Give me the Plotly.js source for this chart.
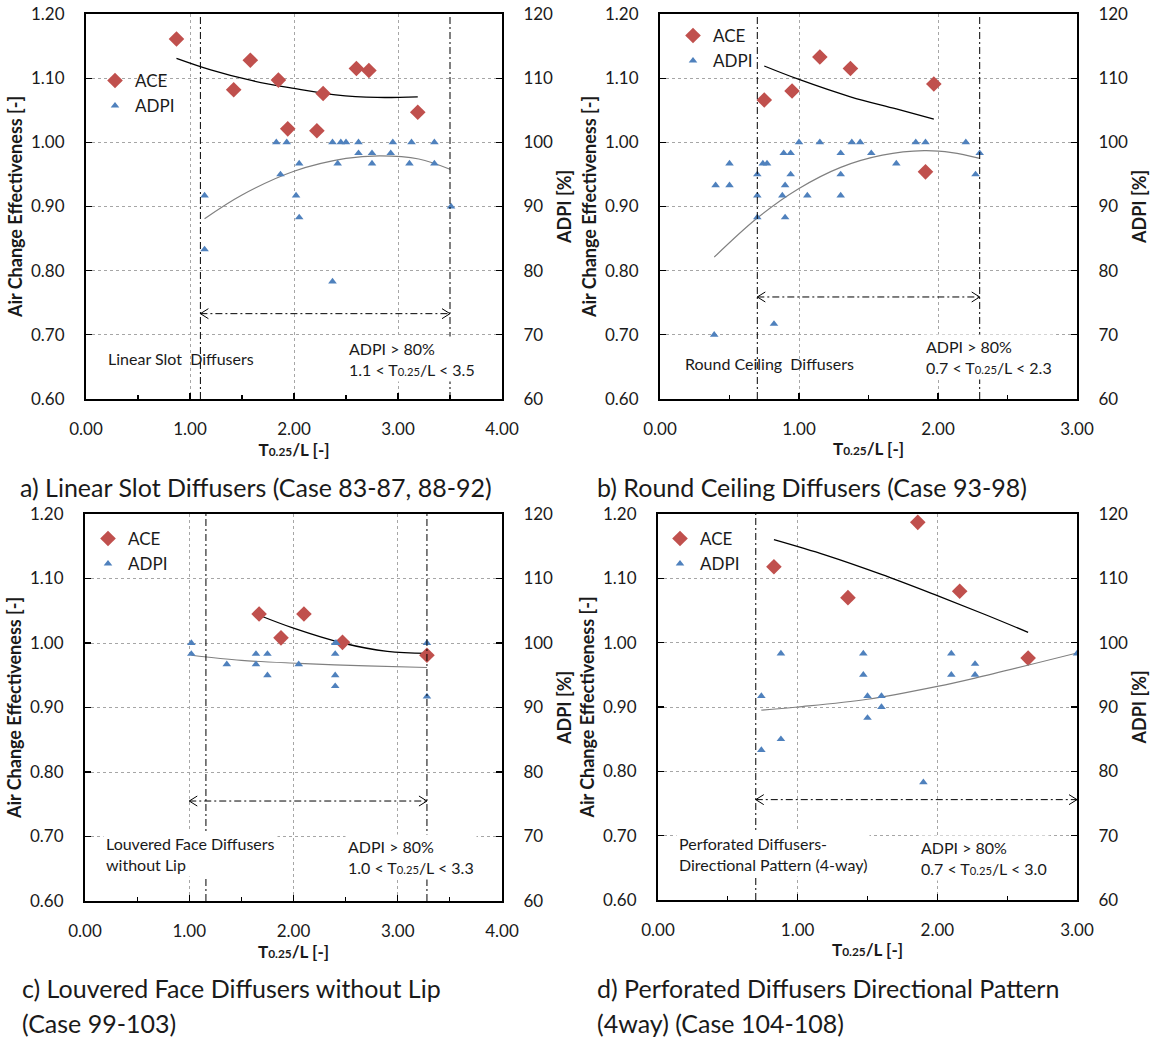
<!DOCTYPE html>
<html>
<head>
<meta charset="utf-8">
<script src="https://cdn.plot.ly/plotly-3.0.1.min.js"></script>
<style>html,body{margin:0;padding:0;background:#fff;}#chart{width:1159px;height:1042px;}</style>
</head>
<body>
<div id="chart"></div>
<script>
// ---------------- DATA ----------------
// Panel a) Linear Slot Diffusers
const aAceX  = [0.87, 1.42, 1.58, 1.85, 1.94, 2.22, 2.28, 2.60, 2.72, 3.19];
const aAceY  = [1.161, 1.082, 1.128, 1.097, 1.021, 1.018, 1.076, 1.115, 1.112, 1.047];
const aAdpiX = [1.14, 1.14, 1.83, 1.93, 1.87, 2.05, 2.02, 2.05, 2.37, 2.42, 2.45, 2.50, 2.62, 2.62, 2.75, 2.75, 2.93, 2.95, 3.11, 3.13, 3.35, 3.35, 3.51, 2.37];
const aAdpiY = [91.7, 83.3, 100, 100, 95, 96.7, 91.7, 88.3, 100, 96.7, 100, 100, 100, 98.3, 98.3, 96.7, 98.3, 100, 96.7, 100, 100, 96.7, 90, 78.3];
const aAceFitX  = [0.87, 1.2, 1.6, 2.0, 2.4, 2.8, 3.19];
const aAceFitY  = [1.131, 1.113, 1.096, 1.084, 1.074, 1.070, 1.071];
const aAdpiFitX = [1.14, 1.5, 2.0, 2.5, 2.83, 3.2, 3.5];
const aAdpiFitY = [88.1, 91.8, 95.5, 97.5, 97.9, 97.4, 95.8];
const aBounds = [1.1, 3.5];
const aArrow  = [1.1, 3.5];
const aArrowY = 0.733;

// Panel b) Round Ceiling Diffusers
const bAceX  = [0.75, 0.95, 1.15, 1.37, 1.97, 1.91];
const bAceY  = [1.066, 1.080, 1.133, 1.115, 1.091, 0.954];
const bAdpiX = [0.40, 0.50, 0.50, 0.70, 0.70, 0.70, 0.74, 0.77, 0.89, 0.94, 0.90, 0.94, 0.88, 0.90, 1.00, 1.06, 1.15, 1.30, 1.30, 1.30, 1.38, 1.44, 1.52, 1.70, 1.84, 1.91, 2.20, 2.30, 2.27, 0.39, 0.82];
const bAdpiY = [93.3, 96.7, 93.3, 95, 91.7, 88.3, 96.7, 96.7, 98.3, 98.3, 93.3, 95, 91.7, 88.3, 100, 91.7, 100, 98.3, 95, 91.7, 100, 100, 98.3, 96.7, 100, 100, 100, 98.3, 95, 70, 71.7];
const bAceFitX  = [0.75, 1.0, 1.37, 1.7, 1.97];
const bAceFitY  = [1.119, 1.098, 1.071, 1.052, 1.036];
const bAdpiFitX = [0.39, 0.7, 1.0, 1.3, 1.6, 1.9, 2.1, 2.3];
const bAdpiFitY = [82.1, 88.2, 92.8, 96.1, 98.0, 98.7, 98.4, 97.5];
const bBounds = [0.7, 2.3];
const bArrow  = [0.7, 2.3];
const bArrowY = 0.759;

// Panel c) Louvered Face Diffusers without Lip
const cAceX  = [1.67, 2.10, 1.88, 2.47, 3.28];
const cAceY  = [1.045, 1.045, 1.008, 1.001, 0.981];
const cAdpiX = [1.02, 1.02, 1.36, 1.64, 1.64, 1.75, 1.75, 2.05, 2.40, 2.40, 2.40, 2.40, 2.41, 3.28, 3.28];
const cAdpiY = [100, 98.3, 96.7, 98.3, 96.7, 98.3, 95, 96.7, 100, 98.3, 95, 93.3, 100, 100, 91.7];
const cAceFitX  = [1.67, 2.0, 2.47, 2.9, 3.28];
const cAceFitY  = [1.043, 1.023, 1.000, 0.987, 0.984];
const cAdpiFitX = [1.02, 1.5, 2.05, 2.7, 3.28];
const cAdpiFitY = [98.1, 97.3, 96.85, 96.45, 96.2];
const cBounds = [1.16, 3.28];
const cArrow  = [1.0, 3.28];
const cArrowY = 0.755;

// Panel d) Perforated Diffusers Directional Pattern (4-way)
const dAceX  = [0.83, 1.36, 1.86, 2.16, 2.65];
const dAceY  = [1.118, 1.070, 1.187, 1.080, 0.976];
const dAdpiX = [0.74, 0.74, 0.88, 0.88, 1.47, 1.47, 1.50, 1.50, 1.60, 1.60, 2.10, 2.10, 2.27, 2.27, 3.00, 1.90];
const dAdpiY = [91.7, 83.3, 98.3, 85, 98.3, 95, 91.7, 88.3, 91.7, 90, 98.3, 95, 96.7, 95, 98.3, 78.3];
const dAceFitX  = [0.83, 1.2, 1.6, 2.0, 2.35, 2.65];
const dAceFitY  = [1.160, 1.136, 1.106, 1.073, 1.043, 1.016];
const dAdpiFitX = [0.74, 1.0, 1.5, 2.0, 2.27, 3.0];
const dAdpiFitY = [89.5, 90.0, 91.2, 93.2, 94.5, 98.4];
const dBounds = [0.7];
const dArrow  = [0.7, 3.0];
const dArrowY = 0.756;

// Axis ranges / tick labels
const aceRange  = [0.6, 1.2];
const adpiRange = [60, 120];
const xMaxAC = 4;   // panels a, c
const xMaxBD = 3;   // panels b, d
const seriesNames = ['ACE', 'ADPI'];
const leftTitle  = 'Air Change Effectiveness [-]';
const rightTitle = 'ADPI [%]';
const subTL = 'T<span style="font-size:0.7em">0.25</span>/L';
const xTitle = subTL + ' [-]';

// ---------------- LAYOUT HELPERS ----------------
const W = 1159, H = 1042;
const px = v => v / W;
const py = v => 1 - v / H;
const FONT = 'Lato, "Open Sans", "Liberation Sans", sans-serif';
const TXT = '#1a1a1a';
const ACE_COLOR = '#C0504D';
const ADPI_COLOR = '#4F81BD';

const panels = [
  {k:'a', xa:'x',  ya:'y',  yb:'y2', xl:'xaxis',  yl:'yaxis',  ybl:'yaxis2', leg:'legend',
   box:[86,502,14,399], xmax:xMaxAC,
   aceX:aAceX, aceY:aAceY, adpiX:aAdpiX, adpiY:aAdpiY,
   aceFX:aAceFitX, aceFY:aAceFitY, adpiFX:aAdpiFitX, adpiFY:aAdpiFitY,
   bounds:aBounds, arrow:aArrow, arrowY:aArrowY, legPos:[95,63]},
  {k:'b', xa:'x2', ya:'y3', yb:'y4', xl:'xaxis2', yl:'yaxis3', ybl:'yaxis4', leg:'legend2',
   box:[660,1077,14,399], xmax:xMaxBD,
   aceX:bAceX, aceY:bAceY, adpiX:bAdpiX, adpiY:bAdpiY,
   aceFX:bAceFitX, aceFY:bAceFitY, adpiFX:bAdpiFitX, adpiFY:bAdpiFitY,
   bounds:bBounds, arrow:bArrow, arrowY:bArrowY, legPos:[673,18]},
  {k:'c', xa:'x3', ya:'y5', yb:'y6', xl:'xaxis3', yl:'yaxis5', ybl:'yaxis6', leg:'legend3',
   box:[85,502,514,901], xmax:xMaxAC,
   aceX:cAceX, aceY:cAceY, adpiX:cAdpiX, adpiY:cAdpiY,
   aceFX:cAceFitX, aceFY:cAceFitY, adpiFX:cAdpiFitX, adpiFY:cAdpiFitY,
   bounds:cBounds, arrow:cArrow, arrowY:cArrowY, legPos:[88,521]},
  {k:'d', xa:'x4', ya:'y7', yb:'y8', xl:'xaxis4', yl:'yaxis7', ybl:'yaxis8', leg:'legend4',
   box:[658,1077,514,900], xmax:xMaxBD,
   aceX:dAceX, aceY:dAceY, adpiX:dAdpiX, adpiY:dAdpiY,
   aceFX:dAceFitX, aceFY:dAceFitY, adpiFX:dAdpiFitX, adpiFY:dAdpiFitY,
   bounds:dBounds, arrow:dArrow, arrowY:dArrowY, legPos:[660,521]}
];

const traces = [];
const layout = {
  width: W, height: H,
  margin: {l:0, r:0, t:0, b:0},
  paper_bgcolor: '#ffffff', plot_bgcolor: '#ffffff',
  font: {family: FONT, color: TXT, size: 17},
  hovermode: false,
  showlegend: true,
  shapes: [], annotations: []
};

const dashDot = '7px,3px,2px,3px';
const titleFont = {size:18, weight:'bold', color:TXT, family:FONT};

panels.forEach(p => {
  const [l, r, t, b] = p.box;
  // trend lines
  traces.push({type:'scatter', mode:'lines', x:p.adpiFX, y:p.adpiFY, xaxis:p.xa, yaxis:p.yb,
    line:{color:'#808080', width:1.2, shape:'spline'}, showlegend:false, hoverinfo:'skip'});
  traces.push({type:'scatter', mode:'lines', x:p.aceFX, y:p.aceFY, xaxis:p.xa, yaxis:p.ya,
    line:{color:'#000000', width:1.3, shape:'spline'}, showlegend:false, hoverinfo:'skip'});
  // points
  traces.push({type:'scatter', mode:'markers', name:seriesNames[0], x:p.aceX, y:p.aceY,
    xaxis:p.xa, yaxis:p.ya, legend:p.leg,
    marker:{symbol:'diamond', size:12, color:ACE_COLOR}});
  traces.push({type:'scatter', mode:'markers', name:seriesNames[1], x:p.adpiX, y:p.adpiY,
    xaxis:p.xa, yaxis:p.yb, legend:p.leg,
    marker:{symbol:'triangle-up', size:7.5, color:ADPI_COLOR}});

  const xdom = [px(l), px(r)];
  const ydom = [py(b), py(t)];
  layout[p.xl] = {
    domain: xdom, anchor: p.ya, range:[0, p.xmax], dtick:1, tickformat:'.2f',
    showline:true, linecolor:'#000', linewidth:2, mirror:true,
    ticks:'inside', ticklen:6, tickwidth:1.2, tickcolor:'#000',
    minor:{dtick:0.5, ticks:'inside', ticklen:4, tickwidth:1.2, tickcolor:'#000', showgrid:false},
    showgrid:true, gridcolor:'#a6a6a6', griddash:'dot', gridwidth:1,
    zeroline:false, ticklabelstandoff:14,
    tickfont:{size:17, color:TXT, family:FONT},
    title:{text:xTitle, font:{size:17, weight:'bold', color:TXT, family:FONT}, standoff:5}
  };
  layout[p.yl] = {
    domain: ydom, anchor: p.xa, range: aceRange, dtick:0.1, tickformat:'.2f',
    showline:true, linecolor:'#000', linewidth:2,
    ticks:'inside', ticklen:6, tickwidth:1.2, tickcolor:'#000',
    showgrid:true, gridcolor:'#a6a6a6', griddash:'dot', gridwidth:1,
    zeroline:false, ticklabelstandoff:16,
    tickfont:{size:17, color:TXT, family:FONT},
    title:{text:leftTitle, font:titleFont, standoff:4}
  };
  layout[p.ybl] = {
    domain: ydom, anchor: p.xa, overlaying: p.ya, side:'right', range: adpiRange, dtick:10,
    showline:true, linecolor:'#000', linewidth:2,
    ticks:'inside', ticklen:6, tickwidth:1.2, tickcolor:'#000',
    showgrid:false, zeroline:false, ticklabelstandoff:16,
    tickfont:{size:17, color:TXT, family:FONT},
    title:{text:rightTitle, font:titleFont, standoff:6}
  };
  layout[p.leg] = {
    x: px(p.legPos[0]), y: py(p.legPos[1]), xanchor:'left', yanchor:'top',
    bgcolor:'rgba(0,0,0,0)', borderwidth:0,
    font:{size:17, color:TXT, family:FONT}, tracegroupgap:0
  };

  // criterion boundaries (dash-dot verticals)
  p.bounds.forEach(v => {
    layout.shapes.push({type:'line', xref:p.xa, yref:p.ya + ' domain', x0:v, x1:v, y0:0, y1:1,
      line:{color:'#000', width:1, dash:dashDot}, layer:'above'});
  });
  // double arrow
  layout.shapes.push({type:'line', xref:p.xa, yref:p.ya, x0:p.arrow[0], x1:p.arrow[1],
    y0:p.arrowY, y1:p.arrowY, line:{color:'#000', width:1, dash:dashDot}, layer:'above'});
  layout.shapes.push({type:'path', xref:p.xa, yref:p.ya, xsizemode:'pixel', ysizemode:'pixel',
    xanchor:p.arrow[0], yanchor:p.arrowY, path:'M 8 -5 L 0 0 L 8 5',
    line:{color:'#000', width:1}, layer:'above'});
  layout.shapes.push({type:'path', xref:p.xa, yref:p.ya, xsizemode:'pixel', ysizemode:'pixel',
    xanchor:p.arrow[1], yanchor:p.arrowY, path:'M -8 -5 L 0 0 L -8 5',
    line:{color:'#000', width:1}, layer:'above'});
});

// ---------------- TEXT ANNOTATIONS ----------------
function note(text, x, y, opts) {
  return Object.assign({text, xref:'paper', yref:'paper', x:px(x), y:py(y),
    xanchor:'left', yanchor:'middle', align:'left', showarrow:false,
    font:{size:16, color:TXT, family:FONT}}, opts || {});
}
const noteBg = {bgcolor:'#ffffff', borderpad:2};
layout.annotations.push(
  note('Linear Slot  Diffusers', 106, 358),
  note('ADPI > 80%<br>1.1 < ' + subTL + ' < 3.5', 346, 359, noteBg),
  note('Round Ceiling  Diffusers', 683, 363),
  note('ADPI > 80%<br>0.7 < ' + subTL + ' < 2.3', 923, 357, noteBg),
  note('Louvered Face Diffusers<br>without Lip', 103, 854, noteBg),
  note('ADPI > 80%<br>1.0 < ' + subTL + ' < 3.3', 345, 857, noteBg),
  note('Perforated Diffusers-<br>Directional Pattern (4-way)', 676, 854, noteBg),
  note('ADPI > 80%<br>0.7 < ' + subTL + ' < 3.0', 918, 858, noteBg)
);
// captions
const capFont = {size:25, color:TXT, family:FONT};
layout.annotations.push(
  note('a) Linear Slot Diffusers (Case 83-87, 88-92)', 18, 487, {font:capFont}),
  note('b) Round Ceiling Diffusers (Case 93-98)', 595, 487, {font:capFont}),
  note('c) Louvered Face Diffusers without Lip', 20, 988, {font:capFont}),
  note('(Case 99-103)', 20, 1023, {font:capFont}),
  note('d) Perforated Diffusers Directional Pattern', 595, 988, {font:capFont}),
  note('(4way) (Case 104-108)', 595, 1023, {font:capFont})
);

Plotly.newPlot('chart', traces, layout, {displayModeBar:false, staticPlot:true});
</script>
</body>
</html>
